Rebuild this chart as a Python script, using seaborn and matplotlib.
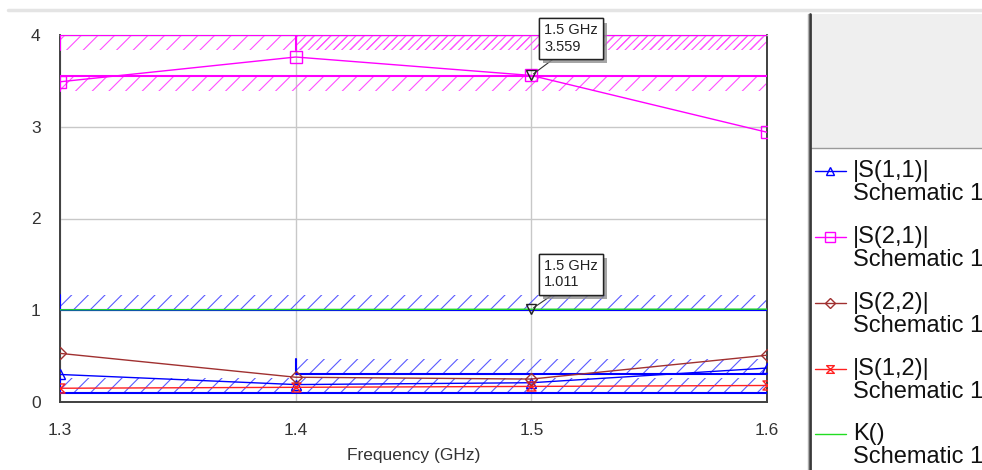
import numpy as np
import pandas as pd
import matplotlib
matplotlib.use("Agg")
import matplotlib.pyplot as plt
import seaborn as sns
from matplotlib.path import Path
from matplotlib.lines import Line2D
from matplotlib.patches import Rectangle
import matplotlib.patheffects as pe

# ---------------- data ----------------
freq = [1.3, 1.4, 1.5, 1.6]
s11 = [0.30, 0.19, 0.21, 0.37]
s21 = [3.49, 3.76, 3.559, 2.94]
s22 = [0.53, 0.27, 0.25, 0.51]
s12 = [0.15, 0.16, 0.17, 0.18]
k_factor = [1.005, 1.008, 1.011, 1.012]

series_names = ["|S(1,1)|", "|S(2,1)|", "|S(2,2)|", "|S(1,2)|", "K()"]
source_name = "Schematic 1"

# goals (optimizer targets): start freq, stop freq, value, trace
goal_start = [1.3, 1.4, 1.3, 1.3, 1.4, 1.3]
goal_stop = [1.6, 1.6, 1.6, 1.6, 1.6, 1.6]
goal_value = [4.0, 4.0, 3.55, 1.0, 0.3, 0.1]
goal_trace = ["|S(2,1)|", "|S(2,1)|", "|S(2,1)|", "|S(1,1)|", "|S(1,1)|", "|S(1,1)|"]

marker_freq = 1.5
marker_values = [3.559, 1.011]

xticks = [1.3, 1.4, 1.5, 1.6]
yticks = [0, 1, 2, 3, 4]

# ---------------- style ----------------
sns.set_style("white")
plt.rcParams["font.family"] = ["Liberation Sans", "DejaVu Sans"]
plt.rcParams["hatch.linewidth"] = 0.8

W, H = 982, 470
fig = plt.figure(figsize=(W / 100, H / 100), dpi=100)
ax = fig.add_axes([60 / W, 1 - 402 / H, (767 - 60) / W, (402 - 35) / H])

colors = {
    "|S(1,1)|": "#0000ff",
    "|S(2,1)|": "#ff00ff",
    "|S(2,2)|": "#a03030",
    "|S(1,2)|": "#ff2020",
    "K()": "#22dd22",
}
hatch_colors = {"|S(1,1)|": "#5a5aff", "|S(2,1)|": "#ff50ff"}
goal_side = {"|S(1,1)|": 1, "|S(2,1)|": -1}

bowtie = Path([(-1, 1), (1, 1), (-1, -1), (1, -1), (-1, 1)],
              [Path.MOVETO, Path.LINETO, Path.LINETO, Path.LINETO, Path.CLOSEPOLY])
markers = {"|S(1,1)|": "^", "|S(2,1)|": "s", "|S(2,2)|": "D", "|S(1,2)|": bowtie, "K()": None}
msizes = {"|S(1,1)|": 6.5, "|S(2,1)|": 8, "|S(2,2)|": 6, "|S(1,2)|": 6.5, "K()": 0}

# ---------------- goal bands ----------------
band_h = 0.165
seen = {}
for x0, x1, v, tr in zip(goal_start, goal_stop, goal_value, goal_trace):
    side = goal_side[tr]
    key = (v, tr)
    n = seen.get(key, 0) + 1
    seen[key] = n
    xs = np.array([x0, x1])
    ax.fill_between(xs, v, v + side * band_h, facecolor="none",
                    edgecolor=hatch_colors[tr], linewidth=0, hatch="//" * n, zorder=2)
    ax.plot(xs, [v, v], color=colors[tr], lw=1.5, zorder=3, solid_capstyle="butt")
    ax.plot([x0, x0], [v, v + side * band_h], color=colors[tr], lw=1.5, zorder=3)

# ---------------- traces ----------------
data = {"|S(1,1)|": s11, "|S(2,1)|": s21, "|S(2,2)|": s22, "|S(1,2)|": s12, "K()": k_factor}
order = ["K()", "|S(1,1)|", "|S(1,2)|", "|S(2,2)|", "|S(2,1)|"]
for name in order:
    df = pd.DataFrame({"Frequency": freq, "value": data[name]})
    kw = dict(color=colors[name], lw=1.0, zorder=4)
    if markers[name] is not None:
        kw.update(marker=markers[name], markersize=msizes[name], markerfacecolor="none",
                  markeredgecolor=colors[name], markeredgewidth=1.0)
    sns.lineplot(data=df, x="Frequency", y="value", ax=ax, legend=False, **kw)

# ---------------- marker annotations ----------------
for val, (dx, dy) in zip(marker_values, [(13, 52), (13, 50)]):
    ax.plot([marker_freq], [val], marker="v", ms=7, mfc="none", mec="#202020", mew=1.0, zorder=6)
    ann = ax.annotate(f"{marker_freq} GHz\n{val:.3f}", xy=(marker_freq, val),
                      xytext=(dx, dy), textcoords="offset pixels", ha="left", va="top",
                      fontsize=10.5, color="#222222", linespacing=1.2, zorder=7,
                      bbox=dict(boxstyle="square,pad=0.35", fc="white", ec="#222222", lw=1.0),
                      arrowprops=dict(arrowstyle="-", color="#333333", lw=0.8,
                                      shrinkA=0, shrinkB=2, relpos=(0.3, 0.0)))
    ann.get_bbox_patch().set_path_effects([pe.withSimplePatchShadow(offset=(3, -3), shadow_rgbFace="#909090", alpha=0.8), pe.Normal()])

# ---------------- axes ----------------
ax.set_xlim(1.3, 1.6)
ax.set_ylim(0, 4)
ax.set_xticks(xticks)
ax.set_xticklabels([f"{t:.1f}" for t in xticks])
ax.set_yticks(yticks)
ax.set_yticklabels([str(t) for t in yticks])
ax.grid(True, color="#c8c8c8", lw=1.0)
ax.set_axisbelow(True)
ax.tick_params(axis="both", length=0, labelsize=12.5, colors="#333333")
ax.tick_params(axis="x", pad=15)
ax.tick_params(axis="y", pad=14)
ax.set_xlabel("Frequency (GHz)", fontsize=12.5, color="#333333", labelpad=7)
ax.set_ylabel("")
for s in ax.spines.values():
    s.set_color("#404040")
    s.set_linewidth(1.4)
ax.spines["top"].set_color("#c8c8c8")
ax.spines["top"].set_linewidth(1.0)

# ---------------- frame decorations & legend panel ----------------
fig.add_artist(Line2D([8 / W, 1], [1 - 10 / H, 1 - 10 / H], color="#e4e4e4", lw=2.5))

lax = fig.add_axes([806 / W, 0, (W - 806) / W, 1])
lax.set_xlim(806, W)
lax.set_ylim(H, 0)
lax.axis("off")
lax.add_patch(Rectangle((811, 14), W - 811, 134, facecolor="#efefef", edgecolor="none"))
lax.plot([811, W], [148, 148], color="#9a9a9a", lw=1.0)
lax.plot([810, 810], [14, H], color="#3a3a3a", lw=2.0)
lax.plot([808, 808], [14, H], color="#b0b0b0", lw=1.0)

legend_y = [171, 237, 303, 369, 434]
for name, y in zip(series_names, legend_y):
    if markers[name] is not None:
        lax.plot([815, 830.5, 846], [y, y, y], color=colors[name], lw=1.0,
                 marker=markers[name], markevery=[1], ms=msizes[name] * 0.85,
                 mfc="none", mec=colors[name], mew=1.0)
    else:
        lax.plot([815, 846], [y, y], color=colors[name], lw=1.0)
    lax.text(853, y, name, fontsize=17, va="center", ha="left", color="#111111")
    lax.text(853, y + 23, source_name, fontsize=17, va="center", ha="left", color="#111111",
             clip_on=False)

fig.savefig("out.png", dpi=100, facecolor="white")
